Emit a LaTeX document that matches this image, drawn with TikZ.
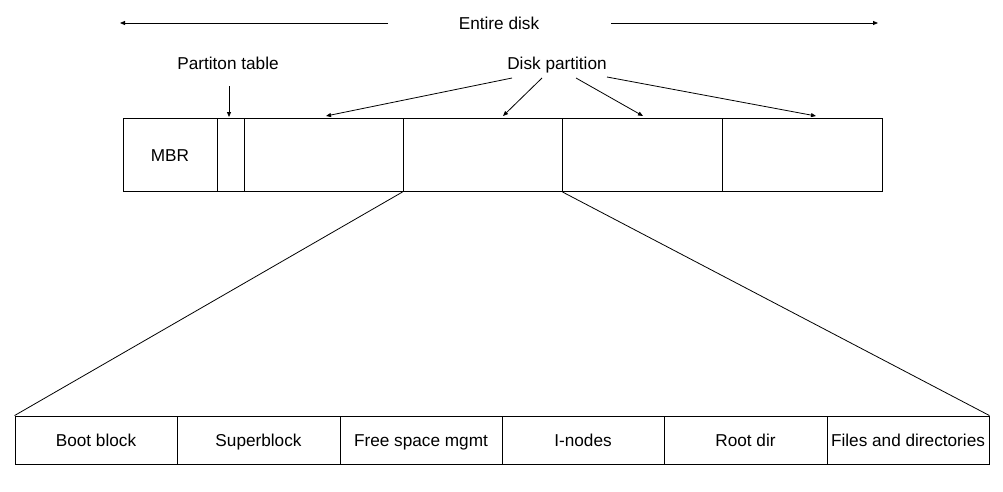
\documentclass[tikz,border=0pt]{standalone}
\usepackage{fontspec}
\setmainfont{Liberation Sans}
\usetikzlibrary{arrows.meta}
\begin{document}
\begin{tikzpicture}[x=1pt,y=-1pt,
  cell/.style={draw,line width=0.9pt,inner sep=0pt,anchor=center,font=\fontsize{17.2}{20}\selectfont,text height=14.5pt,text depth=1.6pt},
  lbl/.style={inner sep=1pt,font=\fontsize{17.2}{20}\selectfont,text height=14.5pt,text depth=1.6pt},
  conn/.style={line width=0.8pt},
  arr/.style={line width=0.8pt,-{Triangle[length=5pt,width=4pt]}}]
\useasboundingbox (0,0) rectangle (1003,491);
% top row
\node[cell,minimum width=94pt,minimum height=73pt] (mbr) at (170,155) {MBR};
\node[cell,minimum width=27pt,minimum height=73pt] (pt) at (230.5,155) {};
\node[cell,minimum width=159pt,minimum height=73pt] (p1) at (323.5,155) {};
\node[cell,minimum width=159pt,minimum height=73pt] (p2) at (482.5,155) {};
\node[cell,minimum width=160pt,minimum height=73pt] (p3) at (642,155) {};
\node[cell,minimum width=160pt,minimum height=73pt] (p4) at (802,155) {};
% bottom row
\node[cell,minimum width=162pt,minimum height=48pt] (boot) at (96,440) {Boot block};
\node[cell,minimum width=163pt,minimum height=48pt] (super) at (258.5,440) {Superblock};
\node[cell,minimum width=162pt,minimum height=48pt] (free) at (421,440) {Free space mgmt};
\node[cell,minimum width=162pt,minimum height=48pt] (inodes) at (583,440) {I-nodes};
\node[cell,minimum width=163pt,minimum height=48pt] (root) at (745.5,440) {Root dir};
\node[cell,minimum width=162pt,minimum height=48pt] (files) at (908,440) {Files and directories};
% labels
\node[lbl] (ed) at (499,23) {Entire disk};
\node[lbl] (ptl) at (228,63) {Partiton table};
\node[lbl] (dp) at (557,63) {Disk partition};
% coordinates
\coordinate (edl) at (388,23);
\coordinate (edle) at (120,23);
\coordinate (edr) at (611,23);
\coordinate (edre) at (878,23);
\coordinate (ptls) at (229,86);
\coordinate (ptt) at (229,117);
\coordinate (s1) at (512,78);
\coordinate (s2) at (542,78);
\coordinate (s3) at (576,78);
\coordinate (s4) at (607,77);
\coordinate (t1) at (326,116);
\coordinate (t2) at (503,116);
\coordinate (t3) at (643,116);
\coordinate (t4) at (816,116);
% connectors
\draw[arr] (edl) -- (edle);
\draw[arr] (edr) -- (edre);
\draw[arr] (ptls) -- (ptt);
\draw[arr] (s1) -- (t1);
\draw[arr] (s2) -- (t2);
\draw[arr] (s3) -- (t3);
\draw[arr] (s4) -- (t4);
\draw[conn] (p2.south west) -- (boot.north west);
\draw[conn] (p2.south east) -- (files.north east);
\end{tikzpicture}
\end{document}
